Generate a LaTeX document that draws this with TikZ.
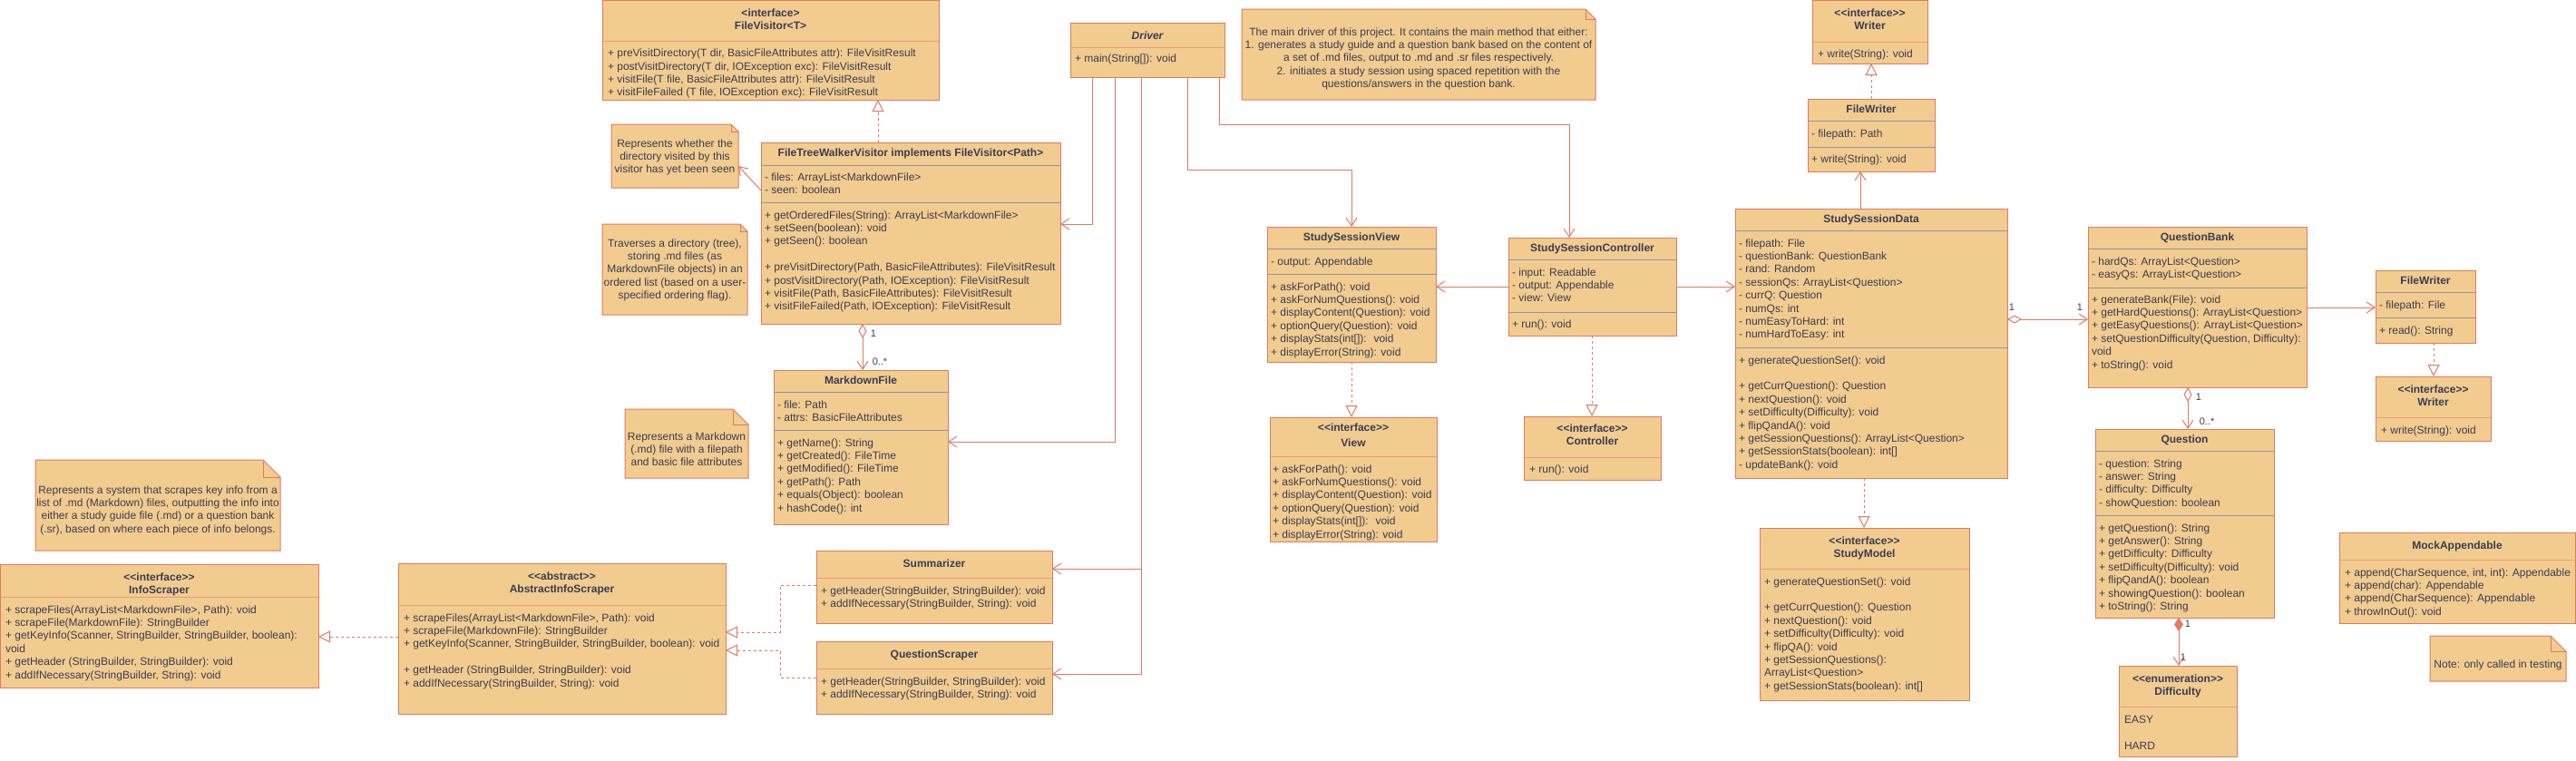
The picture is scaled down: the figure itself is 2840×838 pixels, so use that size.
\documentclass[tikz,border=0pt]{standalone}
\usepackage{fontspec}
\setmainfont{Liberation Sans}
\usetikzlibrary{arrows.meta,fit}
\definecolor{fillc}{HTML}{F2CC8F}
\definecolor{edge}{HTML}{E07A5F}
\definecolor{txt}{HTML}{393C56}
\definecolor{sepgray}{HTML}{8E93A6}
\definecolor{seplight}{HTML}{E89A7C}
\newcommand\fs{\fontsize{12}{14.4}\selectfont}
\newcommand\fsl{\fontsize{11}{13}\selectfont}
\newcounter{tn}
\tikzset{
 box/.style={draw=edge, fill=fillc, line width=1pt, inner sep=0pt, outer sep=0pt},
 notebox/.style={draw=edge, fill=fillc, line width=1pt, line join=miter},
 sepg/.style={draw=sepgray, line width=1pt},
 seps/.style={draw=seplight, line width=1pt},
 ltxt/.style={anchor=north west, inner sep=0pt, outer sep=0pt, align=left, font=\fs, text=txt},
 ctxt/.style={anchor=north, inner sep=0pt, outer sep=0pt, align=center, font=\fs, text=txt},
 ctxtb/.style={ctxt, font=\fs\bfseries},
 mult/.style={inner sep=0pt, font=\fsl, text=txt},
 conn/.style={draw=edge, line width=1pt},
 assoc/.style={conn, -{Straight Barb[length=9pt,width=12pt]}},
 realz/.style={conn, dash pattern=on 3pt off 3pt, -{Triangle[length=13pt,width=13pt,fill=white]}},
 aggr/.style={conn, {Diamond[length=16pt,width=9pt,fill=white]}-{Straight Barb[length=9pt,width=12pt]}},
 comp/.style={conn, {Diamond[length=15pt,width=10pt]}-{Straight Barb[length=9pt,width=12pt]}},
}
\newcommand\umlbox[5]{\node[box, fit={(#2,#3) (#4,#5)}] (#1) {};}
\newcommand\umlsep[3]{\draw[#1] (#2.west |- 0,#3) -- (#2.east |- 0,#3);}
\newcommand\umlnote[6]{%
 \node[inner sep=0pt, outer sep=0pt, fit={(#2,#3) (#4,#5)}] (#1) {};
 \filldraw[notebox] (#2,#3) -- (#4-#6,#3) -- (#4,#3+#6) -- (#4,#5) -- (#2,#5) -- cycle;
 \draw[notebox, fill=none] (#4-#6,#3) -- (#4-#6,#3+#6) -- (#4,#3+#6);}
\newcommand\txl[3]{\stepcounter{tn}\node[ltxt] (t\thetn) at (#1,#2-6) {\strut #3};}
\newcommand\txc[3]{\stepcounter{tn}\node[ctxt] (t\thetn) at (#1,#2-6) {\strut #3};}
\newcommand\txb[3]{\stepcounter{tn}\node[ctxtb] (t\thetn) at (#1,#2-6) {\strut #3};}

\begin{document}
\begin{tikzpicture}[x=1pt,y=-1pt]
\fill[white] (0,0) rectangle (2840,838);
\useasboundingbox (0,0) rectangle (2840,838);

% ---------- FileVisitor ----------
\umlbox{fv}{664}{0.5}{1035}{110}
\umlsep{seps}{fv}{45}
\txb{849.5}{14}{<interface>\\FileVisitor<T>}
\txl{670}{58.7}{+ preVisitDirectory(T dir, BasicFileAttributes attr): FileVisitResult\\+ postVisitDirectory(T dir, IOException exc): FileVisitResult\\+ visitFile(T file, BasicFileAttributes attr): FileVisitResult\\+ visitFileFailed (T file, IOException exc): FileVisitResult}

% ---------- FileTreeWalkerVisitor ----------
\umlbox{ftwv}{839}{157}{1169}{357}
\umlsep{sepg}{ftwv}{182}
\umlsep{sepg}{ftwv}{223}
\txb{1004}{168}{FileTreeWalkerVisitor implements FileVisitor<Path>}
\txl{843}{195}{- files: ArrayList<MarkdownFile>\\- seen: boolean}
\txl{843}{237}{+ getOrderedFiles(String): ArrayList<MarkdownFile>\\+ setSeen(boolean): void\\+ getSeen(): boolean\\~\\+ preVisitDirectory(Path, BasicFileAttributes): FileVisitResult\\+ postVisitDirectory(Path, IOException): FileVisitResult\\+ visitFile(Path, BasicFileAttributes): FileVisitResult\\+ visitFileFailed(Path, IOException): FileVisitResult}

% ---------- notes left ----------
\umlnote{nwh}{674}{137}{814}{207}{8}
\txc{744}{158}{Represents whether the\\directory visited by this\\visitor has yet been seen}
\umlnote{ntr}{664}{247}{824}{347}{8}
\txc{744}{268}{Traverses a directory (tree),\\storing .md files (as\\MarkdownFile objects) in an\\ordered list (based on a user-\\specified ordering flag).}

% ---------- MarkdownFile ----------
\umlbox{mdf}{853}{408}{1045}{578}
\umlsep{sepg}{mdf}{432}
\umlsep{sepg}{mdf}{474}
\txb{949}{419}{MarkdownFile}
\txl{857}{446}{- file: Path\\- attrs: BasicFileAttributes}
\txl{857}{488}{+ getName(): String\\+ getCreated(): FileTime\\+ getModified(): FileTime\\+ getPath(): Path\\+ equals(Object): boolean\\+ hashCode(): int}
\umlnote{nmd}{689}{451}{825}{527}{17}
\txc{757}{481}{Represents a Markdown\\(.md) file with a filepath\\and basic file attributes}

% ---------- Summarizer / QuestionScraper ----------
\umlbox{summ}{900}{607}{1160}{687}
\umlsep{seps}{summ}{637}
\txb{1030}{621}{Summarizer}
\txl{905}{651}{+ getHeader(StringBuilder, StringBuilder): void\\+ addIfNecessary(StringBuilder, String): void}
\umlbox{qs}{900}{707}{1160}{787}
\umlsep{seps}{qs}{737}
\txb{1030}{721}{QuestionScraper}
\txl{905}{751}{+ getHeader(StringBuilder, StringBuilder): void\\+ addIfNecessary(StringBuilder, String): void}

% ---------- AbstractInfoScraper ----------
\umlbox{abs}{439}{621}{800}{787}
\umlsep{seps}{abs}{667}
\txb{619.5}{635}{<{}<abstract>{}>\\AbstractInfoScraper}
\txl{445}{681}{+ scrapeFiles(ArrayList<MarkdownFile>, Path): void\\+ scrapeFile(MarkdownFile): StringBuilder\\+ getKeyInfo(Scanner, StringBuilder, StringBuilder, boolean): void\\~\\+ getHeader (StringBuilder, StringBuilder): void\\+ addIfNecessary(StringBuilder, String): void}

% ---------- InfoScraper ----------
\umlbox{info}{0.5}{622}{351}{758}
\umlsep{seps}{info}{658}
\txb{175.5}{636}{<{}<interface>{}>\\InfoScraper}
\txl{6}{672}{+ scrapeFiles(ArrayList<MarkdownFile>, Path): void\\+ scrapeFile(MarkdownFile): StringBuilder\\+ getKeyInfo(Scanner, StringBuilder, StringBuilder, boolean):\\void\\+ getHeader (StringBuilder, StringBuilder): void\\+ addIfNecessary(StringBuilder, String): void}
\umlnote{nsys}{39}{507}{309}{607}{19}
\txc{174}{540}{Represents a system that scrapes key info from a\\list of .md (Markdown) files, outputting the info into\\either a study guide file (.md) or a question bank\\(.sr), based on where each piece of info belongs.}

% ---------- Driver ----------
\umlbox{drv}{1180}{25}{1350}{85}
\umlsep{seps}{drv}{52}
\node[ctxt, font=\fs\bfseries\itshape] (drvt) at (1265,39-6) {\strut Driver};
\txl{1185}{64}{+ main(String[]): void}
\umlnote{ndrv}{1369}{10}{1759}{110}{11}
\txc{1564}{35}{The main driver of this project. It contains the main method that either:\\1. generates a study guide and a question bank based on the content of\\a set of .md files, output to .md and .sr files respectively.\\2. initiates a study session using spaced repetition with the\\questions/answers in the question bank.}

% ---------- Writer / FileWriter (top) ----------
\umlbox{wr1}{1998}{0.5}{2125}{70}
\umlsep{seps}{wr1}{46}
\txb{2061.5}{14}{<{}<interface>{}>\\Writer}
\txl{2004}{59}{+ write(String): void}
\umlbox{fw1}{1993}{109}{2133}{189}
\umlsep{sepg}{fw1}{133}
\umlsep{sepg}{fw1}{162}
\txb{2063}{120}{FileWriter}
\txl{1997}{147}{- filepath: Path}
\txl{1997}{175}{+ write(String): void}

% ---------- StudySessionView ----------
\umlbox{ssv}{1397}{250}{1583}{399}
\umlsep{sepg}{ssv}{274}
\umlsep{sepg}{ssv}{302}
\txb{1490}{261}{StudySessionView}
\txl{1401}{288}{- output: Appendable}
\txl{1401}{316}{+ askForPath(): void\\+ askForNumQuestions(): void\\+ displayContent(Question): void\\+ optionQuery(Question): void\\+ displayStats(int[]):~ void\\+ displayError(String): void}

% ---------- StudySessionController ----------
\umlbox{ssc}{1663}{262}{1848}{370}
\umlsep{sepg}{ssc}{286}
\umlsep{sepg}{ssc}{344}
\txb{1755.5}{273}{StudySessionController}
\txl{1667}{300}{- input: Readable\\- output: Appendable\\- view: View}
\txl{1667}{357}{+ run(): void}

% ---------- View ----------
\umlbox{view}{1400}{460}{1584}{597}
\umlsep{seps}{view}{503}
\txb{1492}{471}{<{}<interface>{}>}
\txb{1492}{488}{View}
\txl{1403}{517}{+ askForPath(): void\\+ askForNumQuestions(): void\\+ displayContent(Question): void\\+ optionQuery(Question): void\\+ displayStats(int[]):~ void\\+ displayError(String): void}

% ---------- Controller ----------
\umlbox{ctrl}{1680}{459}{1831}{529}
\umlsep{seps}{ctrl}{504}
\txb{1755.5}{472}{<{}<interface>{}>\\Controller}
\txl{1686}{517}{+ run(): void}

% ---------- StudySessionData ----------
\umlbox{ssd}{1913}{230}{2213}{527}
\umlsep{sepg}{ssd}{254}
\umlsep{sepg}{ssd}{383}
\txb{2063}{241}{StudySessionData}
\txl{1917}{268}{- filepath: File\\- questionBank: QuestionBank\\- rand: Random\\- sessionQs: ArrayList<Question>\\- currQ: Question\\- numQs: int\\- numEasyToHard: int\\- numHardToEasy: int}
\txl{1917}{397}{+ generateQuestionSet(): void\\~\\+ getCurrQuestion(): Question\\+ nextQuestion(): void\\+ setDifficulty(Difficulty): void\\+ flipQandA(): void\\+ getSessionQuestions(): ArrayList<Question>\\+ getSessionStats(boolean): int[]\\- updateBank(): void}

% ---------- StudyModel ----------
\umlbox{sm}{1940}{582}{2171}{772}
\umlsep{seps}{sm}{627}
\txb{2055.5}{596}{<{}<interface>{}>\\StudyModel}
\txl{1945}{641}{+ generateQuestionSet(): void\\~\\+ getCurrQuestion(): Question\\+ nextQuestion(): void\\+ setDifficulty(Difficulty): void\\+ flipQA(): void\\+ getSessionQuestions():\\ArrayList<Question>\\+ getSessionStats(boolean): int[]}

% ---------- QuestionBank ----------
\umlbox{qb}{2302}{250}{2543}{427}
\umlsep{sepg}{qb}{274}
\umlsep{sepg}{qb}{317}
\txb{2422.5}{261}{QuestionBank}
\txl{2306}{288}{- hardQs: ArrayList<Question>\\- easyQs: ArrayList<Question>}
\txl{2306}{330}{+ generateBank(File): void\\+ getHardQuestions(): ArrayList<Question>\\+ getEasyQuestions(): ArrayList<Question>\\+ setQuestionDifficulty(Question, Difficulty):\\void\\+ toString(): void}

% ---------- FileWriter / Writer (right) ----------
\umlbox{fw2}{2619}{298}{2729}{378}
\umlsep{sepg}{fw2}{322}
\umlsep{sepg}{fw2}{350}
\txb{2674}{309}{FileWriter}
\txl{2623}{336}{- filepath: File}
\txl{2623}{364}{+ read(): String}
\umlbox{wr2}{2619}{415}{2746}{486}
\umlsep{seps}{wr2}{460}
\txb{2682.5}{429}{<{}<interface>{}>\\Writer}
\txl{2625}{474}{+ write(String): void}

% ---------- Question ----------
\umlbox{q}{2310}{473}{2507}{681}
\umlsep{sepg}{q}{497}
\umlsep{sepg}{q}{568}
\txb{2408.5}{484}{Question}
\txl{2314}{511}{- question: String\\- answer: String\\- difficulty: Difficulty\\- showQuestion: boolean}
\txl{2314}{582}{+ getQuestion(): String\\+ getAnswer(): String\\+ getDifficulty: Difficulty\\+ setDifficulty(Difficulty): void\\+ flipQandA(): boolean\\+ showingQuestion(): boolean\\+ toString(): String}

% ---------- Difficulty ----------
\umlbox{diff}{2336}{734}{2466}{834}
\umlsep{seps}{diff}{779}
\txb{2401}{748}{<{}<enumeration>{}>\\Difficulty}
\txl{2342}{793}{EASY}
\txl{2342}{822}{HARD}

% ---------- MockAppendable ----------
\umlbox{mock}{2579}{587}{2839.5}{687}
\umlsep{seps}{mock}{617}
\txb{2709}{601}{MockAppendable}
\txl{2585}{631}{+ append(CharSequence, int, int): Appendable\\+ append(char): Appendable\\+ append(CharSequence): Appendable\\+ throwInOut(): void}
\umlnote{ntest}{2679}{701}{2829}{751}{17}
\txc{2754}{732}{Note: only called in testing}

% ---------- connectors ----------
\draw[realz] (ftwv.north -| 968,0) -- (fv.south -| 968,0);
\draw[assoc] (ftwv.west |- 0,210) -- (nwh.east |- 0,183);
\draw[aggr] (ftwv.south -| 951,0) -- (mdf.north -| 951,0);
\node[mult] (m1) at (963,368) {1};
\node[mult] (m2) at (970,399) {0..*};

\draw[assoc] (drv.south -| 1204,0) |- (ftwv.east |- 0,247);
\draw[assoc] (drv.south -| 1229,0) |- (mdf.east |- 0,487);
\draw[assoc] (drv.south -| 1258,0) |- (summ.east |- 0,627);
\draw[assoc] (drv.south -| 1258,0) |- (qs.east |- 0,743);
\draw[assoc] (drv.south -| 1309,0) |- (1490,187) -- (ssv.north -| 1490,0);
\draw[assoc] (drv.south -| 1344,0) |- (1730,137) -- (ssc.north -| 1730,0);

\draw[assoc] (ssc.west |- 0,316) -- (ssv.east |- 0,316);
\draw[assoc] (ssc.east |- 0,316) -- (ssd.west |- 0,316);
\draw[realz] (ssv.south -| 1490,0) -- (view.north -| 1490,0);
\draw[realz] (ssc.south -| 1755,0) -- (ctrl.north -| 1755,0);
\draw[assoc] (ssd.north -| 2051,0) -- (fw1.south -| 2051,0);
\draw[realz] (fw1.north -| 2063,0) -- (wr1.south -| 2063,0);
\draw[realz] (ssd.south -| 2055,0) -- (sm.north -| 2055,0);
\draw[aggr] (ssd.east |- 0,352) -- (qb.west |- 0,352);
\node[mult] (m3) at (2218,339) {1};
\node[mult] (m4) at (2293,339) {1};
\draw[assoc] (qb.east |- 0,339) -- (fw2.west |- 0,339);
\draw[realz] (fw2.south -| 2683,0) -- (wr2.north -| 2683,0);
\draw[aggr] (qb.south -| 2412,0) -- (q.north -| 2412,0);
\node[mult] (m5) at (2424,438) {1};
\node[mult] (m6) at (2433,465) {0..*};
\draw[comp] (q.south -| 2402,0) -- (diff.north -| 2402,0);
\node[mult] (m7) at (2412,688) {1};
\node[mult] (m8) at (2407,725) {1};

\draw[realz] (summ.west |- 0,645) -- (860,645) |- (abs.east |- 0,697);
\draw[realz] (qs.west |- 0,747) -- (860,747) |- (abs.east |- 0,717);
\draw[realz] (abs.west |- 0,702) -- (info.east |- 0,702);
\end{tikzpicture}
\end{document}
